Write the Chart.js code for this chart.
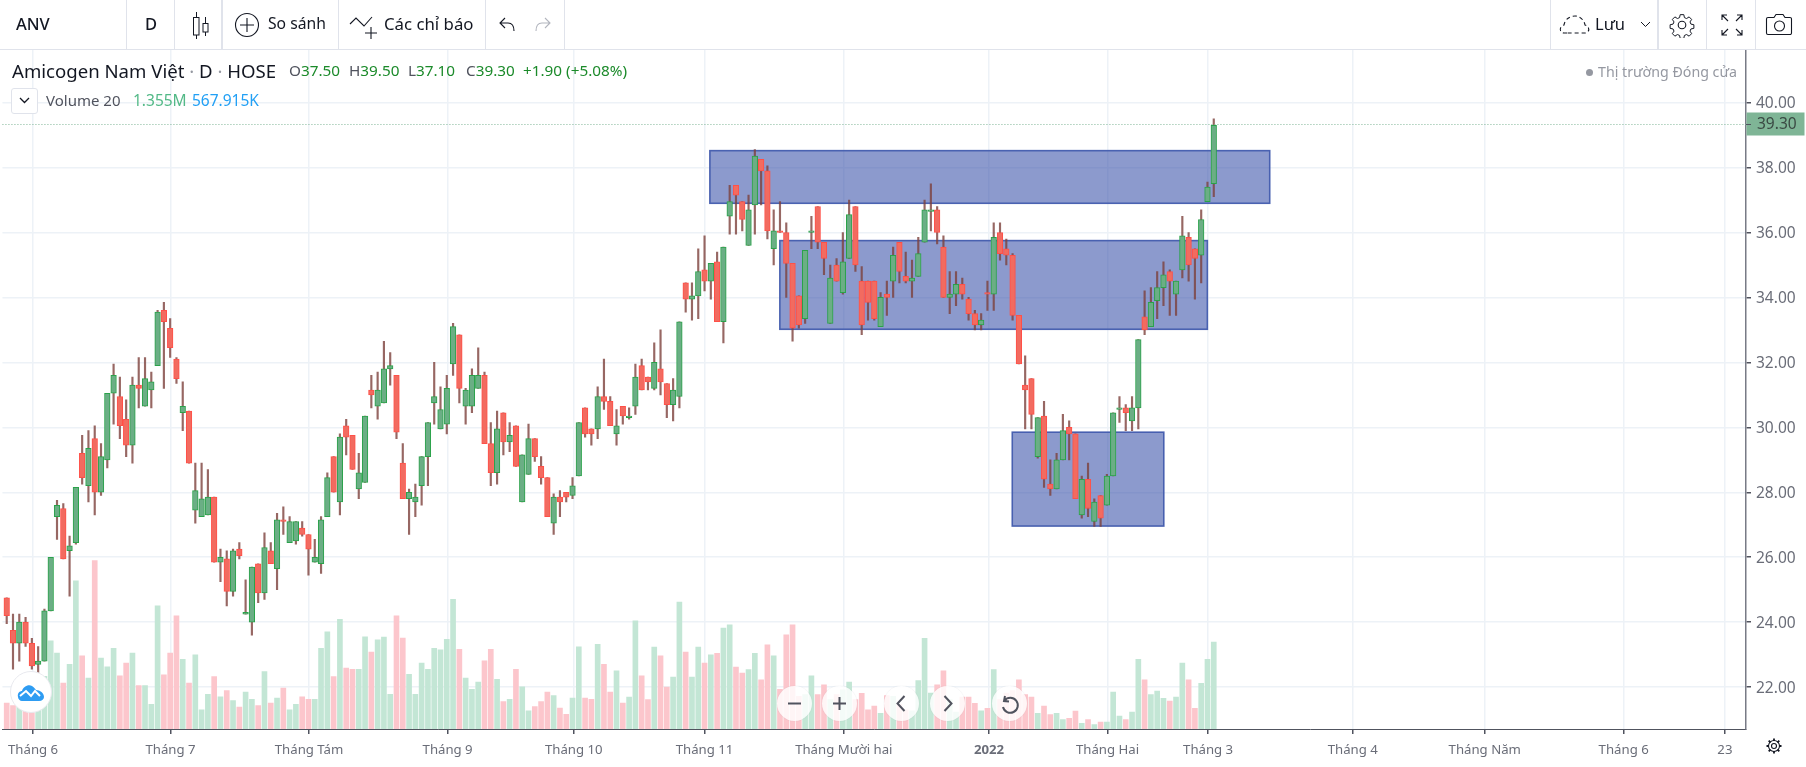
<!DOCTYPE html>
<html lang="vi">
<head>
<meta charset="utf-8">
<title>ANV</title>
<script src="https://cdn.jsdelivr.net/npm/chart.js@4/dist/chart.umd.min.js"></script>
<style>
html,body{margin:0;padding:0;background:#fff;width:1806px;height:767px;overflow:hidden;font-family:"Noto Sans",sans-serif;color:#131722}
#c{position:absolute;left:0;top:0}
.t{position:absolute;white-space:nowrap;line-height:1}
.sep{position:absolute;top:0;height:49px;width:1px;background:#e0e3eb}
.ic{position:absolute}
.btn{position:absolute;width:35px;height:35px;border-radius:50%;background:rgba(255,255,255,.82);top:686px;box-shadow:0 0 1px rgba(120,120,130,.25)}
.btn svg{position:absolute;left:0;top:0}
.q{color:#1b8a2a;top:63px;font-size:15.3px}
.q span{color:#50535e}
</style>
</head>
<body>
<canvas id="c" width="1806" height="767"></canvas>

<div style="position:absolute;left:0;top:49px;width:1806px;height:1px;background:#e0e3eb"></div>
<div class="t" style="left:16px;top:16px;font-size:16.5px;font-weight:500">ANV</div>
<div class="sep" style="left:126px"></div>
<div class="t" style="left:145px;top:16px;font-size:16.5px;font-weight:500">D</div>
<div class="sep" style="left:174px"></div>
<svg class="ic" style="left:190px;top:10px" width="22" height="30" fill="none" stroke="#131722" stroke-width="1"><path d="M6.5 2v5M6.5 25v4M15.5 7v6M15.5 22v4"/><rect x="3.5" y="7.5" width="5.500" height="17.500"/><rect x="13" y="13.500" width="5" height="8.500"/></svg>
<div class="sep" style="left:221px;width:2px"></div>
<svg class="ic" style="left:233px;top:11px" width="28" height="28" fill="none" stroke="#131722" stroke-width="1.100"><circle cx="14" cy="14" r="11.500"/><path d="M14 7v14M7 14h14"/></svg>
<div class="t" style="left:268px;top:16px;font-size:15.7px">So sánh</div>
<div class="sep" style="left:338px"></div>
<svg class="ic" style="left:349px;top:14px" width="30" height="26" fill="none" stroke="#131722" stroke-width="1.100"><path d="M1 10l6-6 8 8 8-9"/><path d="M22 13v12M16 19h12"/></svg>
<div class="t" style="left:384px;top:16px;font-size:16.8px">Các chỉ báo</div>
<div class="sep" style="left:485px"></div>
<svg class="ic" style="left:498px;top:16px" width="20" height="18" fill="none" stroke="#131722" stroke-width="1.100"><path d="M7 2L2 7l5 5M2 7h8c4 0 6 3 6 8"/></svg>
<svg class="ic" style="left:532px;top:16px" width="20" height="18" fill="none" stroke="#b2b5be" stroke-width="1.100"><path d="M13 2l5 5-5 5M18 7h-8c-4 0-6 3-6 8"/></svg>
<div class="sep" style="left:564px"></div>

<div class="sep" style="left:1550px"></div>
<svg class="ic" style="left:1559px;top:13px" width="32" height="23" fill="none" stroke="#131722" stroke-width="1.100" stroke-dasharray="4 3"><path d="M8 20H5c-5 0-5-7 0-8 1-6 6-9 11-9s9 4 10 9c5 1 5 8 0 8H8z"/></svg>
<div class="t" style="left:1595px;top:16px;font-size:16.5px">Lưu</div>
<svg class="ic" style="left:1640px;top:21px" width="11" height="8" fill="none" stroke="#131722"><path d="M1 1l4.500 4.500L10 1"/></svg>
<div class="sep" style="left:1657px;width:2px"></div>
<svg class="ic" style="left:1669px;top:12px" width="26" height="26" fill="none" stroke="#131722" stroke-width="1.100"><circle cx="13" cy="13" r="3.800"/><path d="M11 1.500h4l.7 3.300 2.400 1 2.800-1.800 2.800 2.800-1.800 2.800 1 2.400 3.300.7v4l-3.300.7-1 2.400 1.800 2.800-2.800 2.800-2.800-1.800-2.400 1-.7 3.300h-4l-.7-3.300-2.400-1-2.800 1.800-2.800-2.800 1.800-2.800-1-2.400-3.300-.7v-4l3.300-.7 1-2.400-1.800-2.800 2.800-2.800 2.800 1.800 2.400-1z" transform="translate(1.300 1.300) scale(.9)"/></svg>
<div class="sep" style="left:1706px"></div>
<svg class="ic" style="left:1720px;top:13px" width="24" height="24" fill="none" stroke="#131722" stroke-width="1.100"><path d="M2 7V2h5M2 2l6 6M17 2h5v5M22 2l-6 6M2 17v5h5M2 22l6-6M22 17v5h-5M22 22l-6-6"/></svg>
<div class="sep" style="left:1755px"></div>
<svg class="ic" style="left:1765px;top:12px" width="28" height="25" fill="none" stroke="#131722" stroke-width="1.100"><path d="M3 5.500h6l2-3h7l2 3h5a1.500 1.500 0 0 1 1.500 1.500v14a1.500 1.500 0 0 1-1.500 1.500H3A1.500 1.500 0 0 1 1.500 21V7A1.500 1.500 0 0 1 3 5.500z"/><circle cx="14.500" cy="14" r="5"/></svg>

<div class="t" style="left:12px;top:62px;font-size:18.6px;color:#131722">Amicogen Nam Việt <span style="color:#9598a1">·</span> D <span style="color:#9598a1">·</span> HOSE</div>
<div class="t q" style="left:289px"><span>O</span>37.50</div>
<div class="t q" style="left:349px"><span>H</span>39.50</div>
<div class="t q" style="left:408px"><span>L</span>37.10</div>
<div class="t q" style="left:466px"><span>C</span>39.30</div>
<div class="t q" style="left:523px">+1.90 (+5.08%)</div>
<div style="position:absolute;left:11px;top:88px;width:25px;height:24px;border:1px solid #e0e3eb;border-radius:3px;background:#fff"></div>
<svg class="ic" style="left:19px;top:97px" width="11" height="8" fill="none" stroke="#131722" stroke-width="1.300"><path d="M1 1l4.500 4.500L10 1"/></svg>
<div class="t" style="left:46px;top:93px;font-size:15px;color:#50535e">Volume 20</div>
<div class="t" style="left:133px;top:93px;font-size:15.5px;color:#53b987">1.355M</div>
<div class="t" style="left:192px;top:93px;font-size:15.5px;color:#22a0f5">567.915K</div>
<div style="position:absolute;left:1586px;top:69px;width:7px;height:7px;border-radius:50%;background:#9598a1"></div>
<div class="t" style="left:1598px;top:65px;font-size:14.2px;color:#9598a1">Thị trường Đóng cửa</div>

<div class="btn" style="left:777px"><svg width="35" height="35" fill="none" stroke="#50535e" stroke-width="2"><path d="M11 17.500h13"/></svg></div>
<div class="btn" style="left:822px"><svg width="35" height="35" fill="none" stroke="#50535e" stroke-width="2"><path d="M11 17.500h13M17.500 11v13"/></svg></div>
<div class="btn" style="left:884px"><svg width="35" height="35" fill="none" stroke="#50535e" stroke-width="2"><path d="M20.500 10l-7 7.500 7 7.500"/></svg></div>
<div class="btn" style="left:930px"><svg width="35" height="35" fill="none" stroke="#50535e" stroke-width="2"><path d="M14.500 10l7 7.500-7 7.500"/></svg></div>
<div class="btn" style="left:992px"><svg width="35" height="35" fill="none" stroke="#50535e" stroke-width="2"><path d="M13 10l-1 5 5 .5M12.500 14.500A7.500 7.500 0 1 1 11 21"/></svg></div>

<div style="position:absolute;left:10px;top:671px;width:40px;height:40px;border-radius:50%;background:#fff;border:1px solid #e8e9ee"></div>
<svg class="ic" style="left:17px;top:683px" width="28" height="18"><path d="M1 14c-1-4 2-6 4-6 1-4 6-7 10-5 2 1 3 3 4 4 4 0 8 3 8 7 0 2-2 4-5 4H5c-2 0-4-2-4-4z" fill="#2e9cf2"/><path d="M3 13l6-5 5 5 4-5 5 5" fill="none" stroke="#fff" stroke-width="2"/></svg>

<svg class="ic" style="left:1765px;top:737px" width="18" height="18" fill="none" stroke="#131722" stroke-width="1.100"><circle cx="9" cy="9" r="2.500"/><path d="M9 1.500v2.500M9 14v2.500M1.500 9H4M14 9h2.500M3.700 3.700l1.800 1.800M12.500 12.500l1.800 1.800M14.300 3.700l-1.800 1.800M5.500 12.500l-1.800 1.800" stroke-width="1.800"/><circle cx="9" cy="9" r="5.500"/></svg>

<script>
// ANV daily session values (VND thousand), oldest first
const opens = [24.75,23.75,23.35,24.0,23.35,22.7,22.8,24.35,27.25,27.5,
26.2,26.45,29.2,28.2,29.65,28.0,29.0,31.05,30.95,30.25,
29.45,31.3,30.65,31.15,31.9,33.6,33.05,32.1,30.45,30.5,
27.45,27.25,27.3,27.85,25.85,25.95,24.95,26.25,24.25,24.0,
25.8,24.9,26.2,25.65,27.15,26.45,26.5,26.9,26.7,25.85,
25.8,27.25,29.1,27.7,30.05,29.75,28.1,28.3,31.15,30.65,
30.75,31.8,31.6,28.9,27.8,27.7,28.2,29.1,30.75,29.95,
30.1,31.95,32.85,30.65,30.65,31.2,31.6,29.5,28.6,30.45,
29.55,30.05,27.7,28.55,29.65,28.8,28.45,27.05,27.85,28.0,
27.9,28.5,30.6,29.95,29.95,30.95,30.8,29.8,30.65,30.3,
30.65,31.9,31.55,31.2,31.8,31.35,30.7,30.95,34.45,33.95,
34.05,34.85,34.5,35.1,33.25,36.5,37.45,36.95,35.6,36.85,
38.25,37.9,35.5,36.05,36.0,35.05,34.05,33.35,36.0,36.8,
35.7,33.2,35.0,34.15,35.2,36.8,34.5,34.5,34.5,33.1,
34.1,34.5,35.7,34.65,34.5,34.65,35.7,36.65,36.7,35.55,
34.0,34.1,34.4,33.95,33.5,33.15,34.15,34.1,36.0,35.5,
35.3,33.45,31.3,31.5,29.1,30.35,28.25,28.1,29.0,30.0,
29.8,27.3,28.4,27.1,27.9,27.6,28.5,30.55,30.6,30.2,
30.6,33.4,33.1,33.9,34.3,34.8,34.1,34.85,35.85,35.5,
35.3,36.95,37.5];
const highs = [24.75,24.25,24.25,24.15,23.5,23.25,24.4,26.0,27.75,27.65,
26.65,28.15,29.75,29.9,30.05,29.5,31.05,31.95,31.55,30.85,
31.55,32.15,32.15,31.7,33.6,33.85,33.35,32.15,31.4,30.5,
28.9,28.9,28.7,27.85,26.25,26.2,26.25,26.45,25.3,25.7,
25.8,26.75,26.45,27.35,27.55,27.25,27.1,27.1,26.7,26.55,
27.25,28.6,29.1,29.8,30.25,29.75,29.2,30.35,31.6,31.7,
32.65,32.3,31.6,29.5,28.1,28.25,29.1,30.15,32.0,31.25,
31.6,33.2,32.85,31.2,31.8,32.45,31.7,30.15,30.5,30.45,
30.15,30.05,29.15,30.1,29.65,29.1,28.45,27.95,28.05,28.0,
28.45,30.15,30.6,29.95,31.25,32.1,30.95,30.55,30.65,30.6,
31.95,32.1,31.55,32.6,33.0,31.35,31.5,33.25,34.45,34.45,
35.5,35.9,35.05,35.4,35.55,37.45,37.45,36.95,37.15,38.55,
38.25,38.05,36.7,36.95,36.3,35.05,34.05,35.45,36.5,36.8,
35.7,35.0,35.2,36.0,37.0,36.8,34.95,34.5,34.5,34.15,
34.5,35.55,35.7,35.4,35.15,35.85,37.0,37.5,36.8,35.9,
34.8,34.8,34.6,34.0,33.6,33.5,34.5,36.3,36.3,35.8,
35.35,33.45,32.2,31.5,30.3,30.8,29.0,29.2,30.4,30.2,
29.8,28.5,28.9,27.8,27.9,28.55,30.45,30.95,30.7,30.95,
32.7,34.2,34.3,34.8,35.1,34.85,34.5,36.5,36.0,35.5,
36.7,37.55,39.5];
const lows = [23.95,22.55,22.8,23.25,22.55,22.45,22.8,24.35,26.55,25.95,
24.8,26.4,28.25,27.7,27.3,27.9,28.75,30.1,29.65,29.1,
28.9,30.6,30.65,30.6,31.9,31.2,32.15,31.35,29.9,28.9,
27.05,27.25,27.3,25.85,25.25,24.5,24.8,25.95,24.25,23.6,
24.6,24.7,25.8,25.0,26.7,26.45,26.4,26.65,25.45,25.85,
25.5,27.25,28.0,27.3,29.15,28.7,27.8,28.3,30.6,30.25,
30.75,31.3,29.65,27.8,26.7,27.25,27.6,28.2,30.1,29.95,
29.8,31.6,30.75,30.1,30.45,31.2,29.5,28.2,28.25,29.15,
29.25,28.8,27.7,28.55,28.95,28.25,27.25,26.7,27.25,27.7,
27.8,28.5,29.7,29.45,29.65,30.55,30.05,29.45,30.1,30.25,
30.4,31.15,31.15,31.15,31.0,30.3,30.2,30.6,33.55,33.3,
33.35,34.2,33.95,33.25,32.6,35.95,35.95,36.05,35.6,35.95,
36.85,35.8,35.0,36.0,34.0,32.65,33.05,33.2,35.5,35.5,
34.7,33.2,34.5,34.1,35.2,34.8,32.85,33.3,33.3,33.1,
33.45,34.0,34.45,34.45,34.0,34.65,35.7,36.05,35.65,34.0,
33.5,33.75,33.95,33.3,33.0,33.0,33.6,33.6,35.15,35.0,
33.3,31.95,29.95,29.95,29.05,28.15,27.9,28.1,29.0,29.0,
27.8,27.2,27.25,26.95,26.95,27.6,28.5,30.15,29.9,29.9,
29.95,32.85,33.1,33.35,33.75,33.45,33.45,34.6,34.5,33.95,
34.45,36.95,37.1];
const closes = [24.2,23.35,24.0,23.35,22.65,22.8,24.35,26.0,27.6,25.95,
26.35,28.15,28.45,29.35,28.0,29.1,31.05,31.6,30.05,29.45,
31.3,31.2,31.5,31.4,33.55,33.25,32.45,31.5,30.65,28.9,
28.05,27.8,27.85,25.85,26.0,24.95,26.2,26.05,24.3,25.7,
24.9,26.3,25.8,27.15,27.1,27.1,27.1,26.7,26.25,26.0,
27.15,28.45,28.0,29.7,29.7,28.7,28.6,30.35,31.0,31.15,
31.8,31.9,29.85,27.8,28.0,27.85,29.1,30.15,30.95,30.55,
31.2,33.1,31.2,31.15,31.6,31.6,29.5,28.6,29.95,29.55,
29.75,28.8,29.15,29.65,29.1,28.45,27.25,27.85,27.7,27.85,
28.2,30.15,29.8,29.8,30.95,30.8,30.05,30.05,30.35,30.35,
31.55,31.15,31.4,32.0,31.4,30.7,31.15,33.25,33.95,34.05,
34.8,34.5,35.05,33.25,35.55,36.95,37.15,36.4,36.7,38.35,
37.9,36.05,36.05,36.0,35.05,33.05,33.15,35.45,36.05,35.7,
35.2,34.6,34.5,35.1,36.55,35.0,33.15,33.85,33.35,34.0,
34.0,35.3,34.8,34.5,34.6,35.35,36.7,36.7,36.0,34.0,
34.1,34.4,34.1,33.5,33.15,33.3,34.1,35.85,35.35,35.3,
33.45,31.95,31.15,30.4,30.3,28.4,28.1,29.0,29.9,29.8,
27.8,28.4,27.5,27.7,27.2,28.5,30.45,30.6,30.45,30.6,
32.7,33.0,33.85,34.3,34.7,34.5,34.5,35.9,35.0,35.2,
36.4,37.4,39.3];
// volume in millions of shares
const volumes = [0.405,0.363,0.716,0.56,0.51,0.353,0.82,1.375,1.183,0.716,
1.007,2.31,1.142,0.794,2.626,1.105,0.97,1.256,0.83,1.028,
1.183,0.675,0.675,0.384,1.92,0.846,1.183,1.765,1.085,0.716,
1.157,0.30,0.54,0.815,0.503,0.597,0.441,0.343,0.576,0.462,
0.363,0.893,0.405,0.483,0.638,0.30,0.384,0.503,0.462,0.462,
1.256,1.515,0.815,1.707,0.95,0.929,0.929,1.438,1.199,1.391,
1.432,0.54,1.765,1.417,0.851,0.54,1.028,0.929,1.256,1.235,
1.396,2.019,1.24,0.794,0.618,0.732,1.064,1.24,0.773,0.426,
0.462,0.929,0.659,0.285,0.348,0.426,0.576,0.519,0.327,0.228,
0.483,1.282,0.483,0.462,1.318,1.007,0.576,0.908,0.405,0.498,
1.687,0.83,0.457,1.277,1.142,0.654,0.81,1.977,1.199,0.81,
1.277,1.028,1.157,1.178,1.573,1.624,0.965,0.872,0.924,1.178,
0.768,1.313,1.142,0.618,1.469,1.624,0.51,0.535,0.83,0.535,
0.69,0.457,0.535,0.612,0.732,0.457,0.555,0.30,0.358,0.244,
0.519,0.51,0.379,0.30,0.285,0.753,1.412,0.56,0.69,0.908,
0.457,0.265,0.498,0.498,0.40,0.285,0.322,0.924,0.457,0.56,
0.597,0.768,0.535,0.498,0.244,0.358,0.223,0.244,0.145,0.166,
0.28,0.088,0.145,0.067,0.109,0.109,0.576,0.202,0.145,0.265,
1.085,0.768,0.535,0.592,0.477,0.436,0.498,1.028,0.768,0.322,
0.711,1.085,1.355];
// time axis ticks, as session numbers
const monthTickSessions = [4.19,26.06,48.09,70.13,90.2,111.0,133.15,156.25,175.1,191.1,214.1,235.1,257.2,273.3];
const monthTickLabels = ["Tháng 6","Tháng 7","Tháng Tám","Tháng 9","Tháng 10","Tháng 11","Tháng Mười hai","2022","Tháng Hai","Tháng 3","Tháng 4","Tháng Năm","Tháng 6","23"];
const priceTicks = [22,24,26,28,30,32,34,36,38,40];
const lastPrice = 39.30;
// drawn zones: session range and price range
const zoneStart = [111.85,122.98,159.95];
const zoneEnd = [200.9,190.98,184.05];
const zoneTop = [38.52,35.75,29.85];
const zoneBottom = [36.9,33.02,26.96];

const FONT = '"Noto Sans", sans-serif';
const sessions = opens.map((_, i) => i);
const isUp = i => closes[i] >= opens[i];

const overlayPlugin = {
  id: 'overlay',
  beforeDatasetsDraw(chart) {
    const {ctx, chartArea: a, scales: {x, y}} = chart;
    ctx.save();
    ctx.beginPath(); ctx.rect(a.left, a.top, a.right - a.left, a.bottom - a.top); ctx.clip();
    zoneStart.forEach((s, i) => {
      const x0 = x.getPixelForValue(s), x1 = x.getPixelForValue(zoneEnd[i]);
      const y0 = y.getPixelForValue(zoneTop[i]), y1 = y.getPixelForValue(zoneBottom[i]);
      ctx.fillStyle = 'rgba(50,75,165,0.56)';
      ctx.fillRect(x0, y0, x1 - x0, y1 - y0);
      ctx.strokeStyle = 'rgba(66,92,174,0.95)';
      ctx.lineWidth = 1.6;
      ctx.strokeRect(x0, y0, x1 - x0, y1 - y0);
    });
    ctx.restore();
  },
  afterDatasetsDraw(chart) {
    const {ctx, chartArea: a, scales: {y}} = chart;
    const py = Math.floor(y.getPixelForValue(lastPrice)) - 0.5;
    ctx.save();
    ctx.strokeStyle = '#7fb596';
    ctx.lineWidth = 1;
    ctx.setLineDash([1, 2]);
    ctx.beginPath(); ctx.moveTo(a.left, py); ctx.lineTo(a.right, py); ctx.stroke();
    ctx.restore();
    ctx.save();
    ctx.fillStyle = '#7fb596';
    ctx.fillRect(a.right + 0.5, py - 12, 58, 23);
    ctx.fillStyle = '#3b4a44';
    ctx.font = '15.5px ' + FONT;
    ctx.textBaseline = 'middle';
    ctx.fillText(lastPrice.toFixed(2), 1757, py + 0.5);
    ctx.strokeStyle = '#50535e';
    ctx.beginPath(); ctx.moveTo(a.right, py); ctx.lineTo(a.right + 5, py); ctx.stroke();
    ctx.restore();
  }
};

const X_MIN = -0.68, X_MAX = 276.66;
new Chart(document.getElementById('c'), {
  type: 'bar',
  data: {
    datasets: [
      { label: 'Nến', order: 1, xAxisID: 'x', yAxisID: 'y', barThickness: 5.6, borderSkipped: false, borderWidth: 1,
        data: sessions.map(i => ({x: i, y: [opens[i], closes[i]]})),
        backgroundColor: sessions.map(i => isUp(i) ? '#6bae85' : '#f26b60'),
        borderColor: sessions.map(i => isUp(i) ? '#2aa24a' : '#ff5048') },
      { label: 'Bóng nến', order: 2, xAxisID: 'x', yAxisID: 'y', barThickness: 1.5, borderWidth: 0,
        data: sessions.map(i => ({x: i, y: [lows[i], highs[i]]})),
        backgroundColor: 'rgba(125,65,60,0.8)' },
      { label: 'Volume', order: 3, xAxisID: 'x', yAxisID: 'v', barThickness: 5, borderWidth: 0,
        data: sessions.map(i => ({x: i, y: volumes[i]})),
        backgroundColor: sessions.map(i => isUp(i) ? '#c3e6d5' : '#fcc6cc') }
    ]
  },
  options: {
    responsive: false, animation: false, devicePixelRatio: 1,
    layout: {autoPadding: false, padding: {top: 50, left: 0, right: 0, bottom: 0}},
    datasets: {bar: {grouped: false}},
    plugins: {legend: {display: false}, tooltip: {enabled: false}, title: {display: false}},
    scales: {
      x: {
        type: 'linear', min: X_MIN, max: X_MAX, offset: false, position: 'bottom',
        afterFit(s) { s.height = 38; },
        afterBuildTicks(s) { s.ticks = monthTickSessions.map(value => ({value})); },
        grid: {offset: false, color: '#edf2f7', lineWidth: 1.5, tickColor: '#50535e', tickLength: 5, drawOnChartArea: true},
        border: {color: '#50535e', width: 1},
        ticks: {
          autoSkip: false, maxRotation: 0, padding: 8, color: '#6a6d78',
          font: ctx => ctx.index === 7 ? {family: FONT, size: 13.2, weight: 'bold'} : {family: FONT, size: 13.2},
          callback: (v, i) => monthTickLabels[i]
        }
      },
      y: {
        type: 'linear', position: 'right', min: 20.71, max: 41.62,
        afterFit(s) { s.width = 60; },
        afterBuildTicks(s) { s.ticks = priceTicks.map(value => ({value})); },
        grid: {color: '#edf2f7', lineWidth: 1.5, tickColor: '#50535e', tickLength: 5},
        border: {color: '#787b86', width: 1.5},
        ticks: {autoSkip: false, padding: 5, labelOffset: 1, color: '#6a6d78', font: {family: FONT, size: 15.5}, callback: v => v.toFixed(2)}
      },
      v: {type: 'linear', display: false, position: 'left', min: 0, max: 10.58, grid: {display: false}}
    }
  },
  plugins: [overlayPlugin]
});
</script>
</body>
</html>
